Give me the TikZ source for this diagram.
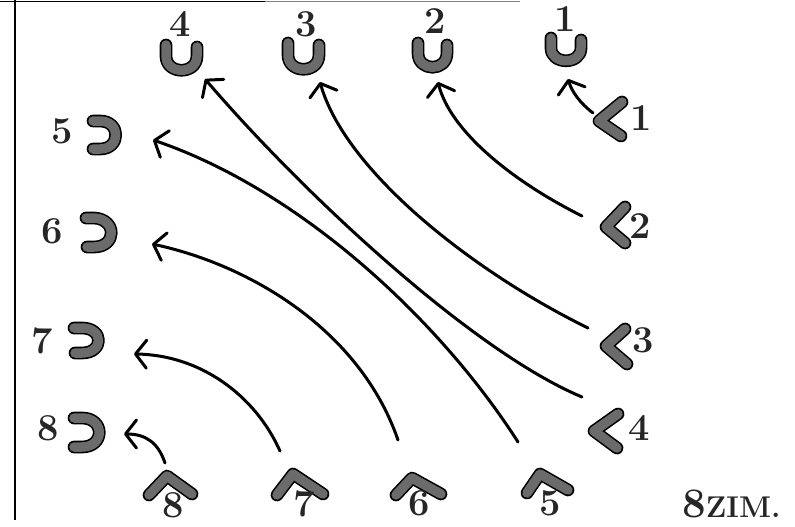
\documentclass[tikz,border=0pt]{standalone}
\usetikzlibrary{arrows.meta}
\tikzset{
  glyph/.style={draw=black, line width=1.6pt, double=black!58, double distance=9.5pt, line cap=round, line join=round},
  link/.style={line width=3pt, line cap=round, -{Straight Barb[round,length=11pt,width=28pt]}},
  num/.style={font=\fontsize{38}{38}\selectfont\bfseries, text=black!85, inner sep=0pt},
}
\begin{document}
\begin{tikzpicture}[x=1pt,y=-1pt]
      \useasboundingbox (0,0) rectangle (795,527);
      \draw[line width=1.6pt] (0,1.5) -- (265,1.5);
      \draw[line width=1.2pt, gray] (265,1.5) -- (520,1.5);
      \draw[line width=2pt] (14.5,0) -- (14.5,520);

      \draw[glyph] (166,45) -- (166,56) .. controls (166,75) and (197,75) .. (197,56) -- (197,47);
      \draw[glyph] (288,43) -- (288,55) .. controls (288,74) and (319,74) .. (319,55) -- (319,45);
      \draw[glyph] (418,43) -- (418,53) .. controls (418,72) and (447,72) .. (447,53) -- (447,45);
      \draw[glyph] (551,38) -- (551,48) .. controls (551,65) and (581,65) .. (581,48) -- (581,40);
      \node[num] (top 4) at (180,24) {4};
      \node[num] (top 3) at (306,24) {3};
      \node[num] (top 2) at (435,21) {2};
      \node[num] (top 1) at (565,19) {1};

      \draw[glyph] (93,121) -- (100,121) .. controls (121,121) and (121,149) .. (100,149) -- (93,149);
      \draw[glyph] (86,218) -- (94,218) .. controls (117,219) and (117,247) .. (94,247) -- (87,247);
      \draw[glyph] (74,328) -- (82,328) .. controls (104,328) and (104,353) .. (82,353) -- (75,353);
      \draw[glyph] (74,418) -- (82,418) .. controls (105,418) and (105,447) .. (82,447) -- (74,447);
      \node[num] (side 5) at (62,131) {5};
      \node[num] (side 6) at (52,231) {6};
      \node[num] (side 7) at (42,341) {7};
      \node[num] (side 8) at (48,428) {8};

      \draw[glyph] (622,102) -- (599,121) -- (621,136);
      \draw[glyph] (625,207) -- (606,227) -- (625,243);
      \draw[glyph] (625,329) -- (606,346) -- (627,364);
      \draw[glyph] (618,414) -- (594,431) -- (617,448);
      \node[num] (right 1) at (641,118) {1};
      \node[num] (right 2) at (640,226) {2};
      \node[num] (right 3) at (643,340) {3};
      \node[num] (right 4) at (639,428) {4};

      \draw[glyph] (149,495) -- (167,476) -- (192,494);
      \draw[glyph] (277,495) -- (293,474) -- (323,494);
      \draw[glyph] (396,495) -- (412,478) -- (441,494);
      \draw[glyph] (527,493) -- (540,474) -- (568,490);
      \node[num] (base 8) at (173,505) {8};
      \node[num] (base 7) at (304,504) {7};
      \node[num] (base 6) at (419,503) {6};
      \node[num] (base 5) at (550,503) {5};

      \node[num, font=\fontsize{30}{30}\selectfont\bfseries, anchor=base west] (scale) at (682,517) {{\fontsize{42}{42}\selectfont 8}ZIM.};

      \coordinate (top 1 end) at (568,79);
      \coordinate (top 2 end) at (438,82);
      \coordinate (top 3 end) at (320,82);
      \coordinate (top 4 end) at (205,79);
      \coordinate (side 5 end) at (153,140);
      \coordinate (side 6 end) at (152,244);
      \coordinate (side 7 end) at (134,354);
      \coordinate (side 8 end) at (124,434);
      \coordinate (right 1 start) at (593,113);
      \coordinate (right 2 start) at (582,216);
      \coordinate (right 3 start) at (588,328);
      \coordinate (right 4 start) at (582,397);
      \coordinate (base 5 start) at (518,442);
      \coordinate (base 6 start) at (398,440);
      \coordinate (base 7 start) at (280,451);
      \coordinate (base 8 start) at (165,463);

      \draw[link] (right 1 start) .. controls (580,103) and (572,92) .. (top 1 end);
      \draw[link] (right 2 start) .. controls (510,180) and (450,130) .. (top 2 end);
      \draw[link] (right 3 start) .. controls (470,270) and (345,170) .. (top 3 end);
      \draw[link] (right 4 start) .. controls (470,350) and (300,190) .. (top 4 end);
      \draw[link] (base 5 start) .. controls (440,320) and (300,190) .. (side 5 end);
      \draw[link] (base 6 start) .. controls (360,330) and (250,265) .. (side 6 end);
      \draw[link] (base 7 start) .. controls (255,395) and (200,355) .. (side 7 end);
      \draw[link] (base 8 start) .. controls (158,442) and (145,434) .. (side 8 end);
    \end{tikzpicture}
\end{document}
